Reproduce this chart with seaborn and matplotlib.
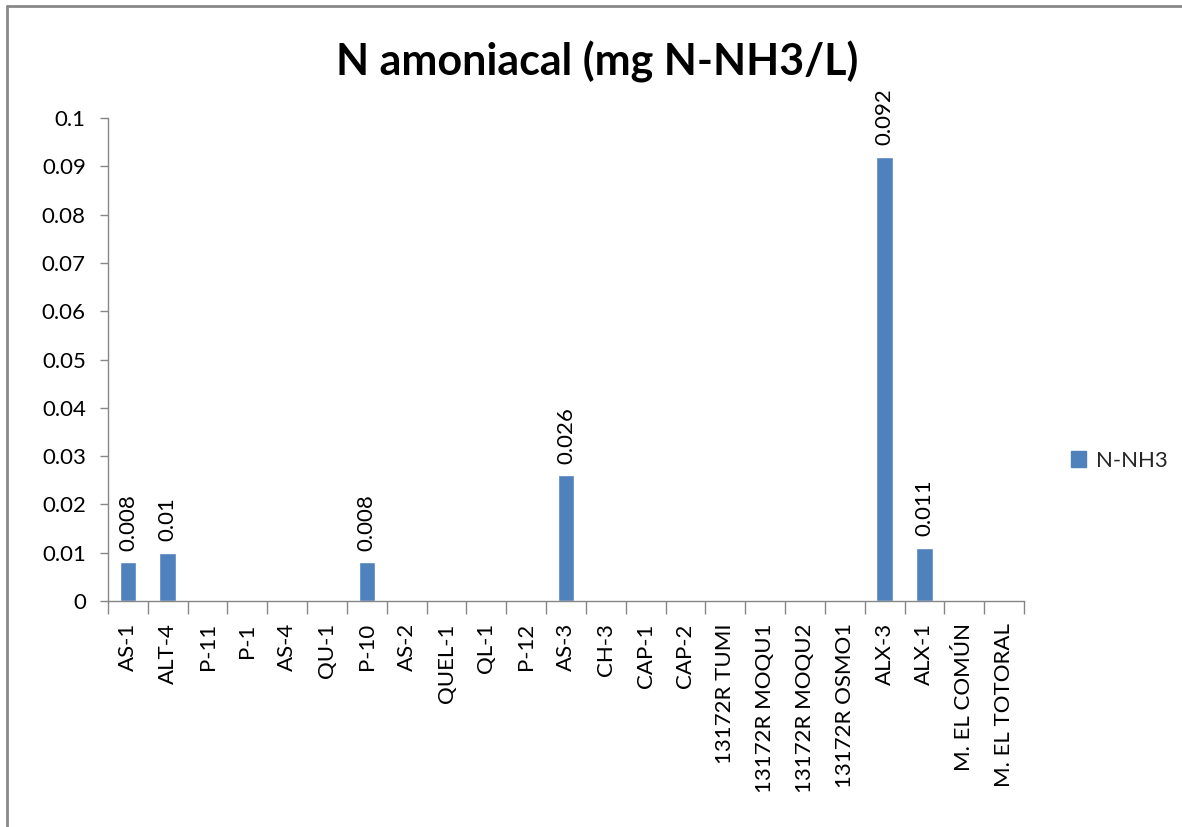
import numpy as np
import pandas as pd
import matplotlib
matplotlib.use("Agg")
import matplotlib.pyplot as plt
from matplotlib.lines import Line2D
from matplotlib.patches import Patch
import seaborn as sns

# Sampling sites and ammonia nitrogen results (blank = not detected / no value)
sites = ["AS-1", "ALT-4", "P-11", "P-1", "AS-4", "QU-1", "P-10", "AS-2", "QUEL-1",
         "QL-1", "P-12", "AS-3", "CH-3", "CAP-1", "CAP-2", "13172R TUMI",
         "13172R MOQU1", "13172R MOQU2", "13172R OSMO1", "ALX-3", "ALX-1",
         "M. EL COMÚN", "M. EL TOTORAL"]
nh3 = [0.008, 0.01, np.nan, np.nan, np.nan, np.nan, 0.008, np.nan, np.nan,
       np.nan, np.nan, 0.026, np.nan, np.nan, np.nan, np.nan,
       np.nan, np.nan, np.nan, 0.092, 0.011, np.nan, np.nan]
value_labels = ["0.008", "0.01", "", "", "", "", "0.008", "", "",
                "", "", "0.026", "", "", "", "",
                "", "", "", "0.092", "0.011", "", ""]
y_ticks = [0, 0.01, 0.02, 0.03, 0.04, 0.05, 0.06, 0.07, 0.08, 0.09, 0.1]
y_tick_labels = ["0", "0.01", "0.02", "0.03", "0.04", "0.05", "0.06", "0.07",
                 "0.08", "0.09", "0.1"]
series_name = "N-NH3"
title = "N amoniacal (mg N-NH3/L)"

sns.set_theme(style="white")
plt.rcParams["font.family"] = ["Lato", "DejaVu Sans"]

BAR = "#4F81BD"
AXIS = "#868686"
FS = 16

df = pd.DataFrame({"site": sites, "value": nh3})

fig = plt.figure(figsize=(11.82, 8.27), dpi=100)
ax = fig.add_axes([108 / 1182, 1 - 601 / 827, (1024 - 108) / 1182, (601 - 118) / 827])

sns.barplot(data=df, x="site", y="value", color=BAR, width=0.42,
            saturation=1, ax=ax, order=sites, errorbar=None)

# value labels above the bars
for i, (v, lab) in enumerate(zip(nh3, value_labels)):
    if lab:
        ax.text(i, v + 0.0024, lab, rotation=90, ha="center", va="bottom",
                fontsize=FS, color="#000000")

ax.set_xlim(-0.5, len(sites) - 0.5)
ax.set_ylim(0, 0.1)
ax.set_yticks(y_ticks)
ax.set_yticklabels(y_tick_labels, fontsize=FS, color="#000000")
ax.set_xticks(range(len(sites)))
ax.set_xticklabels(sites, rotation=90, fontsize=FS, color="#000000")
ax.tick_params(axis="x", which="major", length=0, pad=16)
ax.set_xticks(np.arange(-0.5, len(sites), 1.0), minor=True)
ax.tick_params(axis="x", which="minor", length=9, width=1, color=AXIS, direction="out", bottom=True)
ax.tick_params(axis="y", which="major", length=6, width=1, color=AXIS, direction="out", left=True, pad=10)
ax.set_xlabel("")
ax.set_ylabel("")
ax.grid(False)

for side in ["top", "right"]:
    ax.spines[side].set_visible(False)
for side in ["left", "bottom"]:
    ax.spines[side].set_color(AXIS)
    ax.spines[side].set_linewidth(1)

fig.text(597 / 1182, 1 - 62 / 827, title, ha="center", va="center",
         fontsize=31, fontweight="bold", color="#000000")

handles = [Patch(facecolor=BAR, edgecolor=BAR, label=series_name)]
fig.legend(handles=handles, loc="center left", bbox_to_anchor=(1062 / 1182, 1 - 461 / 827),
           frameon=False, fontsize=FS, handlelength=0.7, handleheight=0.7,
           handletextpad=0.45, borderaxespad=0)

# chart area frame
frame_color = "#898989"
fig.add_artist(Line2D([7 / 1182, 7 / 1182], [0, 1 - 6 / 827], transform=fig.transFigure,
                      color=frame_color, lw=2))
fig.add_artist(Line2D([7 / 1182, 1], [1 - 6 / 827, 1 - 6 / 827], transform=fig.transFigure,
                      color=frame_color, lw=2))

fig.savefig("out.png", dpi=100, facecolor="white")
